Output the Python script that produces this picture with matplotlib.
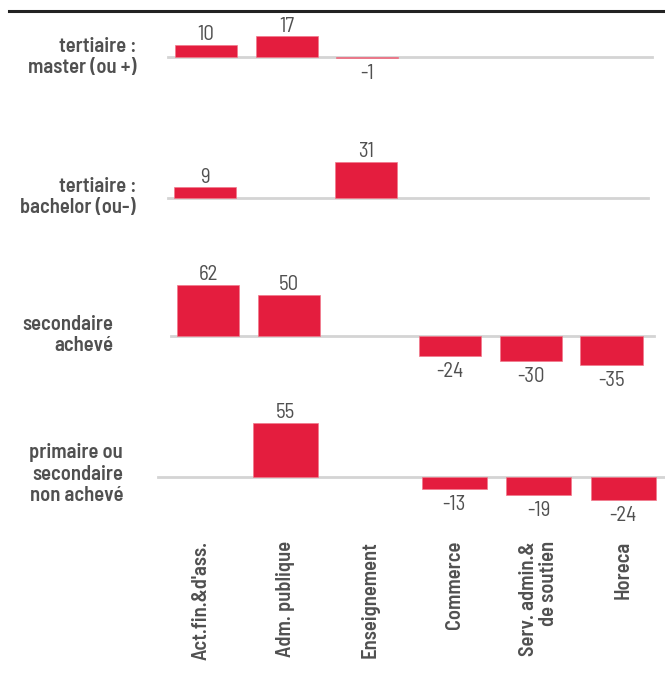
import matplotlib
matplotlib.use("Agg")
import matplotlib.pyplot as plt
import matplotlib.transforms as mtransforms
import numpy as np

categories = ["Act.fin.&d'ass.", "Adm. publique", "Enseignement", "Commerce",
              "Serv. admin.&\nde soutien", "Horeca"]
row_labels = ["tertiaire :\nmaster (ou +)", "tertiaire :\nbachelor (ou-)",
              "secondaire\nachevé", "primaire ou\nsecondaire\nnon achevé"]
master = [10, 17, -1, None, None, None]
bachelor = [9, None, 31, None, None, None]
secondaire = [62, 50, None, -24, -30, -35]
primaire = [None, 55, None, -13, -19, -24]
series = [master, bachelor, secondaire, primaire]

W, H = 665, 677
RED = "#E41D3E"
GRAY = "#505050"
plt.rcParams['font.family'] = ['Barlow Semi Condensed', 'DejaVu Sans']

fig = plt.figure(figsize=(W / 100, H / 100), dpi=100)

layout = [
    dict(b=56.7, k=1.2, T=20, B=100, c0=206.0, s=80.7, bx=(168, 652), lx=136, ly=57),
    dict(b=197.7, k=1.15, T=140, B=240, c0=205.0, s=80.7, bx=(168, 648), lx=136, ly=197),
    dict(b=336.0, k=0.825, T=260, B=390, c0=208.0, s=80.7, bx=(171, 654), lx=113, ly=335),
    dict(b=476.5, k=0.98, T=400, B=530, c0=201.1, s=84.4, bx=(158, 665), lx=123, ly=474),
]

axes = []
for r, (vals, L) in enumerate(zip(series, layout)):
    ax = fig.add_axes([0, 1 - L['B'] / H, 1, (L['B'] - L['T']) / H])
    ax.set_ylim(-(L['B'] - L['b']) / L['k'], (L['b'] - L['T']) / L['k'])
    ax.set_xlim(-L['c0'] / L['s'], (W - L['c0']) / L['s'])
    ax.axis('off')
    ax.axhline(0, xmin=L['bx'][0] / W, xmax=L['bx'][1] / W, color="#d4d4d4", lw=2, zorder=1)
    xs = [i for i, v in enumerate(vals) if v is not None]
    vs = [v for v in vals if v is not None]
    ax.bar(xs, vs, width=0.77, color=RED, zorder=2, edgecolor="#f07a8c", linewidth=0.5)
    for x, v in zip(xs, vs):
        if v >= 0:
            ax.annotate(f"{v}", (x, v), xytext=(0, 0.5), textcoords='offset points',
                        ha='center', va='bottom', fontsize=15, color=GRAY)
        else:
            ax.annotate(f"{v}", (x, v), xytext=(0, -4.5), textcoords='offset points',
                        ha='center', va='top', fontsize=15, color=GRAY)
    fig.text(L['lx'] / W, 1 - L['ly'] / H, row_labels[r], ha='right', va='center',
             multialignment='right', fontsize=14.8, fontweight='semibold', color=GRAY,
             linespacing=1.17)
    axes.append(ax)

ax4 = axes[-1]
trans = mtransforms.blended_transform_factory(ax4.transData, fig.transFigure)
for i, c in enumerate(categories):
    ax4.text(i, 1 - 541 / H, c, rotation=90, ha='center', va='top',
             multialignment='right', fontsize=14.8, fontweight='semibold', color=GRAY,
             transform=trans, linespacing=1.05)

fig.add_artist(plt.Line2D([9 / W, 1], [1 - 11.3 / H, 1 - 11.3 / H], color="#222222", lw=2.2))

fig.savefig("out.png", dpi=100)
